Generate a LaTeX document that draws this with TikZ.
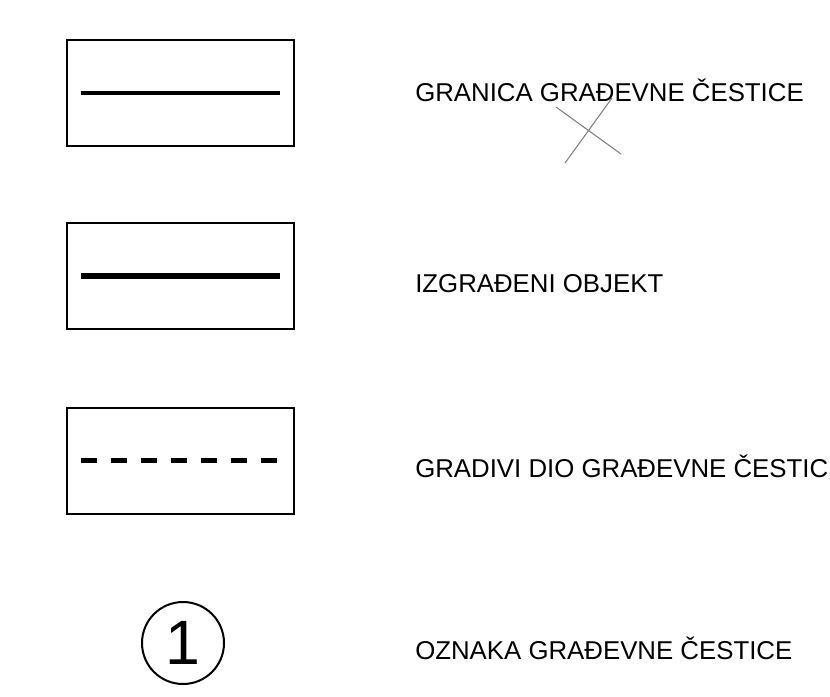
\documentclass[tikz,border=0pt]{standalone}
\usepackage{fontspec}
\setmainfont{Liberation Sans}
\usetikzlibrary{positioning}

\begin{document}
\begin{tikzpicture}[x=0.75pt,y=-0.75pt,
		legbox/.style={rectangle,draw=black,line width=1.5pt,minimum width=170.25pt,minimum height=79.5pt,inner sep=0pt},
		legtext/.style={anchor=base west,inner sep=0pt,font=\fontsize{19.35pt}{23pt}\selectfont},
		cross/.style={draw=gray,line width=0.8pt}]
		\useasboundingbox (0,0) rectangle (830,696);
		\node[legbox]  (granica)  at (180.5,93)  {};
		\node[legbox]  (objekt)   at (180.5,276) {};
		\node[legbox]  (gradivi)  at (180.5,460.5) {};
		\node[circle,draw=black,line width=1.5pt,minimum size=61.5pt,inner sep=0pt,
			font=\fontsize{47pt}{50pt}\selectfont] (oznaka) at (183,643) {1};
		
		\coordinate (t1) at (415,101);
		\coordinate (t2) at (415,292);
		\coordinate (t3) at (415,477);
		\coordinate (t4) at (415,659);
		\node[legtext] (granicaT) at (t1) {GRANICA GRAĐEVNE ČESTICE};
		\node[legtext] (objektT)  at (t2) {IZGRAĐENI OBJEKT};
		\node[legtext] (gradiviT) at (t3) {GRADIVI DIO GRAĐEVNE ČESTICE};
		\node[legtext] (oznakaT)  at (t4) {OZNAKA GRAĐEVNE ČESTICE};
		
		\draw[line width=3.6pt] ([xshift=11pt]granica.west) -- ([xshift=-11pt]granica.east);
		\draw[line width=4.8pt] ([xshift=11pt]objekt.west) -- ([xshift=-11pt]objekt.east);
		\draw[line width=4pt,dash pattern=on 12.5pt off 10pt] ([xshift=11pt]gradivi.west) -- ([xshift=-11pt]gradivi.east);
		
		% mark over the first label
		\coordinate (c1) at (556,107);
		\coordinate (c2) at (621,154);
		\coordinate (c3) at (612,98);
		\coordinate (c4) at (565,163);
		\path[cross] (c1) -- (c2) (c3) -- (c4);
\end{tikzpicture}
\end{document}
